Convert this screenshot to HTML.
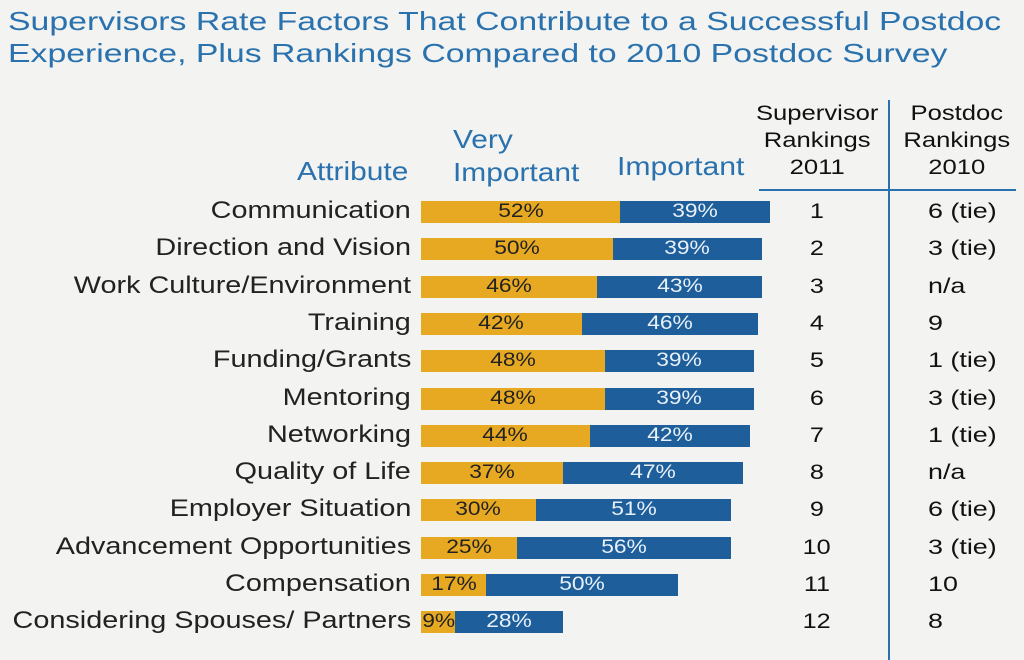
<!DOCTYPE html>
<html><head><meta charset="utf-8"><style>
body{margin:0;background:#f3f3f1;font-family:"Liberation Sans",sans-serif;}
#wrap{position:relative;width:1024px;height:660px;overflow:hidden;}
.t{position:absolute;white-space:nowrap;}
</style></head><body>
<div id="wrap">
<div class="t" style="left:8px;top:5px;font-size:26px;color:#2a72ae;line-height:32px;transform:scaleX(1.3);transform-origin:0 0;">Supervisors Rate Factors That Contribute to a Successful Postdoc<br>Experience, Plus Rankings Compared to 2010 Postdoc Survey</div>
<div class="t" style="left:297px;top:156px;font-size:26px;color:#2a72ae;transform:scaleX(1.15);transform-origin:0 0;">Attribute</div>
<div class="t" style="left:453px;top:123px;font-size:26px;color:#2a72ae;line-height:33px;transform:scaleX(1.15);transform-origin:0 0;">Very<br>Important</div>
<div class="t" style="left:617px;top:151px;font-size:26px;color:#2a72ae;transform:scaleX(1.16);transform-origin:0 0;">Important</div>
<div class="t" style="left:752px;top:100px;width:130px;text-align:center;font-size:21px;line-height:27px;color:#111;"><span style="display:inline-block;transform:scaleX(1.22);">Supervisor<br>Rankings<br>2011</span></div>
<div class="t" style="left:890px;top:100px;width:134px;text-align:center;font-size:21px;line-height:27px;color:#111;"><span style="display:inline-block;transform:scaleX(1.22);">Postdoc<br>Rankings<br>2010</span></div>
<div class="t" style="left:759px;top:189px;width:257px;height:2px;background:#2a72ae;"></div>
<div class="t" style="left:888px;top:100px;width:2px;height:560px;background:#2a72ae;"></div>
<div id="rows"></div>
</div>
<script>
const categories=["Communication","Direction and Vision","Work Culture/Environment","Training","Funding/Grants","Mentoring","Networking","Quality of Life","Employer Situation","Advancement Opportunities","Compensation","Considering Spouses/ Partners"];
const veryImportant=[52,50,46,42,48,48,44,37,30,25,17,9];
const important=[39,39,43,46,39,39,42,47,51,56,50,28];
const supRank=["1","2","3","4","5","6","7","8","9","10","11","12"];
const postRank=["6 (tie)","3 (tie)","n/a","9","1 (tie)","3 (tie)","1 (tie)","n/a","6 (tie)","3 (tie)","10","8"];
const x0=421,pxPer=3.83,y0=212,step=37.3,bh=22;
const xs=v=>v*pxPer;
const ys=i=>y0+i*step;
const root=document.getElementById('rows');
function mk(css,txt){const d=document.createElement('div');d.className='t';d.style.cssText=css;if(txt!==undefined)d.textContent=txt;root.appendChild(d);return d;}
categories.forEach((c,i)=>{
 const y=ys(i);
 let e=mk(`right:${1024-411}px;top:${y-15}px;font-size:24px;color:#222;transform:scaleX(1.2);transform-origin:100% 0;`,c);
 
 
 const w1=xs(veryImportant[i]),w2=xs(important[i]);
 e=mk(`left:${x0}px;top:${y-bh/2}px;width:${w1}px;height:${bh}px;background:#e8a922;color:#222;font-size:19px;line-height:${bh}px;text-align:center;`,'');
 e.innerHTML='<span style="display:inline-block;transform:scaleX(1.2)">'+veryImportant[i]+'%</span>';
 
 
 e=mk(`left:${x0+w1}px;top:${y-bh/2}px;width:${w2}px;height:${bh}px;background:#1d5e9b;color:#e8f0f8;font-size:19px;line-height:${bh}px;text-align:center;`,'');
 e.innerHTML='<span style="display:inline-block;transform:scaleX(1.2)">'+important[i]+'%</span>';
 
 
 e=mk(`left:780px;width:74px;text-align:center;top:${y-12}px;font-size:21px;color:#111;`,'');
 e.innerHTML='<span style="display:inline-block;transform:scaleX(1.2)">'+supRank[i]+'</span>';
 
 
 e=mk(`left:928px;top:${y-12}px;font-size:21px;color:#111;transform:scaleX(1.28);transform-origin:0 0;`,postRank[i]);
 
 
});
</script>
</body></html>
